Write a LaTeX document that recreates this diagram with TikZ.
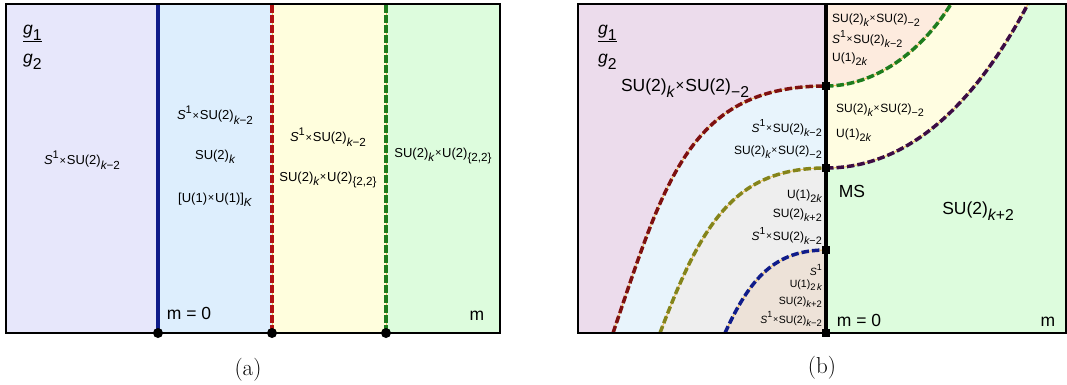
\documentclass[tikz,border=0pt]{standalone}
\usepackage{fontspec}
\usepackage{tikz}
\newfontfamily\plotfont{Liberation Sans}
\newfontfamily\capfont{Latin Modern Roman}
% region colours
\definecolor{regLav}{HTML}{E7E7FB}
\definecolor{regSky}{HTML}{DDEEFD}
\definecolor{regLem}{HTML}{FFFEDD}
\definecolor{regMint}{HTML}{DDFCDD}
\definecolor{regMauve}{HTML}{ECDCEC}
\definecolor{regIce}{HTML}{E8F4FC}
\definecolor{regGrey}{HTML}{EEEEEE}
\definecolor{regSand}{HTML}{EDE2D8}
\definecolor{regPeach}{HTML}{FDEBDE}
\definecolor{regCream}{HTML}{FFFDE1}
% line colours
\definecolor{lineNavy}{HTML}{101C8A}
\definecolor{lineRed}{HTML}{B01212}
\definecolor{lineGreen}{HTML}{1E7C1E}
\definecolor{lineMaroon}{HTML}{7E1010}
\definecolor{lineOlive}{HTML}{84841A}
\definecolor{lineGrape}{HTML}{3C0C44}
\definecolor{gapcol}{HTML}{F2C060}
\newcommand\tms{\kern0.06em\raisebox{0.05em}{\scalebox{0.85}{×}}\kern0.06em}
\newcommand\sups[1]{\raisebox{0.5em}{\scalebox{0.85}{#1}}}
\newcommand\subs[1]{\raisebox{-0.32em}{\scalebox{0.9}{#1}}}
\newcommand\ik{{\itshape k}}
\newcommand\Sone{{\itshape S}\sups{1}}
\newcommand\SUk[1]{SU(2)\subs{#1}}
\newcommand\Uk{U(1)\subs{2\ik}}

\begin{document}
\begin{tikzpicture}[
    x=1pt, y=-1pt,
    lab/.style={font=\plotfont\fontsize{13}{16}\selectfont, inner sep=0pt},
    smlab/.style={font=\plotfont\fontsize{12}{15}\selectfont, inner sep=0pt},
    tinylab/.style={font=\plotfont\fontsize{10.5}{13}\selectfont, inner sep=0pt},
    biglab/.style={font=\plotfont\fontsize{17.5}{20}\selectfont, inner sep=0pt},
    caplab/.style={font=\capfont\fontsize{23}{26}\selectfont, inner sep=0pt},
    panelframe/.style={draw=black, line width=1.8pt},
    wall/.style={line width=3.4pt},
    phase/.style={line width=3.6pt, dash pattern=on 8pt off 2pt, preaction={draw=gapcol, solid, line width=1pt}},
    curvephase/.style={line width=3.5pt, dash pattern=on 7.5pt off 3pt, preaction={draw=gapcol, solid, line width=1pt}},
    pdot/.style={circle, fill=black, minimum size=10pt, inner sep=0pt},
    sqdot/.style={rectangle, fill=black, minimum size=8pt, inner sep=0pt}
]
\useasboundingbox (0,0) rectangle (1067,385);

% (a) vertical phase walls
\coordinate (wa) at (158,4);
\coordinate (wb) at (272,4);
\coordinate (wc) at (386,4);
\coordinate (fa) at (158,333);
\coordinate (fb) at (272,333);
\coordinate (fc) at (386,333);
\fill[regLav] (6,4) rectangle (fa);
\fill[regSky] (wa) rectangle (fb);
\fill[regLem] (wb) rectangle (fc);
\fill[regMint] (wc) rectangle (500,333);
\draw[wall, lineNavy] (fa) -- (wa);
\draw[phase, lineRed] (fb) -- (wb);
\draw[phase, lineGreen] (fc) -- (wc);
\draw[panelframe] (6,4) rectangle (500,333);
\node[pdot] (da) at (fa) {};
\node[pdot] (db) at (fb) {};
\node[pdot] (dc) at (fc) {};

% (b) points on the m = 0 axis
\coordinate (msA) at (826,333);
\coordinate (msB) at (826,250);
\coordinate (msC) at (826,168);
\coordinate (msD) at (826,86);
\coordinate (msE) at (826,4);
\coordinate (redfoot) at (613,333);
\coordinate (olivefoot) at (660,333);
\coordinate (bluefoot) at (725,333);
\coordinate (greentop) at (951,4);
\coordinate (grapetop) at (1028,4);

\fill[regMauve] (578,4) rectangle (msA);
\fill[regIce] (redfoot) .. controls (665,180) and (690,86) .. (msD) -- (msA) -- cycle;
\fill[regGrey] (olivefoot) .. controls (702,222) and (735,168) .. (msC) -- (msA) -- cycle;
\fill[regSand] (bluefoot) .. controls (750,278) and (775,250) .. (msB) -- (msA) -- cycle;
\fill[regMint] (msE) rectangle (1066,333);
\fill[regCream] (msC) .. controls (920,168) and (985,85) .. (grapetop) -- (msE) -- cycle;
\fill[regPeach] (msD) .. controls (875,86) and (921,52) .. (greentop) -- (msE) -- cycle;

\draw[curvephase, lineMaroon] (redfoot) .. controls (665,180) and (690,86) .. (msD);
\draw[curvephase, lineOlive] (olivefoot) .. controls (702,222) and (735,168) .. (msC);
\draw[curvephase, lineNavy] (bluefoot) .. controls (750,278) and (775,250) .. (msB);
\draw[curvephase, lineGreen] (msD) .. controls (875,86) and (921,52) .. (greentop);
\draw[curvephase, lineGrape] (msC) .. controls (920,168) and (985,85) .. (grapetop);
\draw[wall, black] (msA) -- (msE);
\draw[panelframe] (578,4) rectangle (1066,333);
\node[sqdot] (sa) at (msA) {};
\node[sqdot] (sb) at (msB) {};
\node[sqdot] (sc) at (msC) {};
\node[sqdot] (sd) at (msD) {};

% (a) labels
\node[biglab, anchor=base west] (ga1) at (23,34.5) {{\itshape g}\subs{1}};
\draw[line width=0.9pt] ([yshift=-7pt]ga1.base west) -- ([yshift=-7pt]ga1.base east);
\node[biglab, anchor=base west] (ga2) at (23,63.5) {{\itshape g}\subs{2}};
\node[lab] (aL) at (82,160) {\Sone\tms\SUk{\ik−2}};
\node[lab] (aS1) at (215,115) {\Sone\tms\SUk{\ik−2}};
\node[lab] (aS2) at ([yshift=-42pt]aS1) {\SUk{\ik}};
\node[lab] (aS3) at ([yshift=-43pt]aS2) {[U(1)\tms U(1)]\subs{\itshape K}};
\node[lab] (aY1) at (328,137) {\Sone\tms\SUk{\ik−2}};
\node[lab] (aY2) at ([yshift=-43pt]aY1) {\SUk{\ik}\tms U(2)\subs{\{2,2\}}};
\node[lab] (aM) at (443,156) {\SUk{\ik}\tms U(2)\subs{\{2,2\}}};
\node[biglab] (am0) at (189,313) {m = 0};
\node[biglab] (am) at (477,316) {m};
\node[caplab] (capa) at (248,370) {(a)};

% (b) labels
\node[biglab, anchor=base west] (gb1) at (598,34.5) {{\itshape g}\subs{1}};
\draw[line width=0.9pt] ([yshift=-7pt]gb1.base west) -- ([yshift=-7pt]gb1.base east);
\node[biglab, anchor=base west] (gb2) at (598,63.5) {{\itshape g}\subs{2}};
\node[biglab] (bMauve) at (685,88) {\SUk{\ik}\tms\SUk{−2}};
\node[smlab, anchor=west] (bP1) at (832,20) {\SUk{\ik}\tms\SUk{−2}};
\node[smlab, anchor=west] (bP2) at ([yshift=-19pt]bP1.west) {\Sone\tms\SUk{\ik−2}};
\node[smlab, anchor=west] (bP3) at ([yshift=-20pt]bP2.west) {\Uk};
\node[smlab, anchor=west] (bC1) at (836,110) {\SUk{\ik}\tms\SUk{−2}};
\node[smlab, anchor=west] (bC2) at ([yshift=-25pt]bC1.west) {\Uk};
\node[smlab, anchor=east] (bI1) at (822,128) {\Sone\tms\SUk{\ik−2}};
\node[smlab, anchor=east] (bI2) at ([yshift=-24pt]bI1.east) {\SUk{\ik}\tms\SUk{−2}};
\node[smlab, anchor=east] (bG1) at (822,196) {\Uk};
\node[smlab, anchor=east] (bG2) at ([yshift=-19pt]bG1.east) {\SUk{\ik+2}};
\node[smlab, anchor=east] (bG3) at ([yshift=-21pt]bG2.east) {\Sone\tms\SUk{\ik−2}};
\node[tinylab, anchor=east] (bS1) at (822,270) {\Sone};
\node[tinylab, anchor=east] (bS2) at ([yshift=-15pt]bS1.east) {U(1)\subs{2\,\ik}};
\node[tinylab, anchor=east] (bS3) at ([yshift=-17pt]bS2.east) {\SUk{\ik+2}};
\node[tinylab, anchor=east] (bS4) at ([yshift=-17pt]bS3.east) {\Sone\tms\SUk{\ik−2}};
\node[biglab] (bMS) at (852,191) {MS};
\node[biglab] (bMint) at (978,211) {\SUk{\ik+2}};
\node[biglab] (bm0) at (859,320) {m = 0};
\node[biglab] (bm) at (1048,322) {m};
\node[caplab] (capb) at (822,368) {(b)};
\end{tikzpicture}
\end{document}
